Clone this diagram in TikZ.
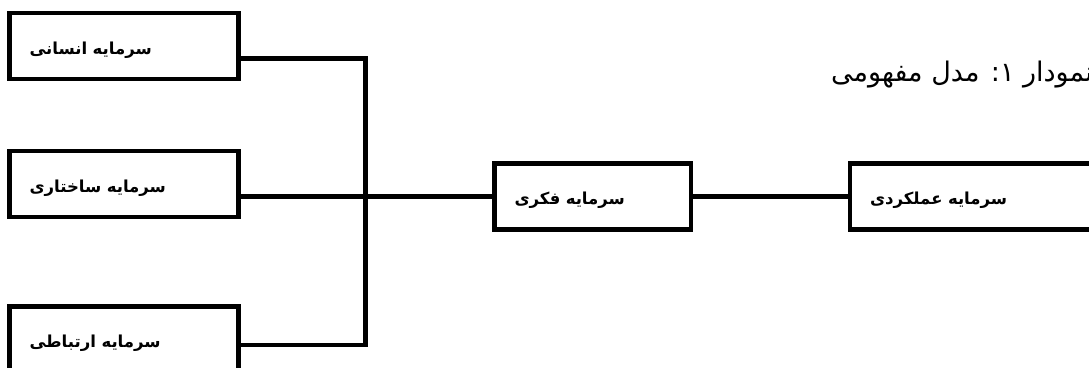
\documentclass[tikz,border=0pt]{standalone}
\usepackage{fontspec}
\newfontfamily\boxfont[Script=Arabic]{DejaVu Sans}
\newfontfamily\titlefont[Script=Arabic]{DejaVu Sans}
\TeXXeTstate=1
\tikzset{
  capbox/.style={draw, line width=4.6pt, minimum height=66pt, inner xsep=20pt,
    text height=20pt, text depth=4pt,
    align=left, font=\boxfont\bfseries\fontsize{16.5}{19}\selectfont},
  conn/.style={line width=4.6pt},
}

\begin{document}
\begin{tikzpicture}[x=1pt,y=-1pt]
  \path[use as bounding box,clip] (0,0) rectangle (1089,367);
  \fill[white] (0,0) rectangle (1089,367);

  \node[capbox, text width=189pt] (ensani) at (124,46) {\beginR سرمایه انسانی\endR};
  \node[capbox, text width=189pt] (sakhtari) at (124,184) {\beginR سرمایه ساختاری\endR};
  \node[capbox, text width=189pt] (ertebati) at (124,339.5) {\beginR سرمایه ارتباطی\endR};
  \node[capbox, text width=156.5pt] (fekri) at (592.75,196.5) {\beginR سرمایه فکری\endR};
  \node[capbox, text width=220pt] (amalkardi) at (980,196.5) {\beginR سرمایه عملکردی\endR};

  \node[anchor=base west, inner sep=0pt, font=\titlefont\fontsize{27}{31}\selectfont] (title)
    at (831,81) {\beginR نمودار ۱: مدل مفهومی\endR};

  \coordinate (j) at (365.5,195.5);
  \draw[conn] ([yshift=-12.5pt]ensani.east) -| (j) |- ([yshift=-5.5pt]ertebati.east);
  \draw[conn] (sakhtari.east |- fekri.west) -- (fekri.west);
  \draw[conn] (fekri) -- (amalkardi);
\end{tikzpicture}
\end{document}
